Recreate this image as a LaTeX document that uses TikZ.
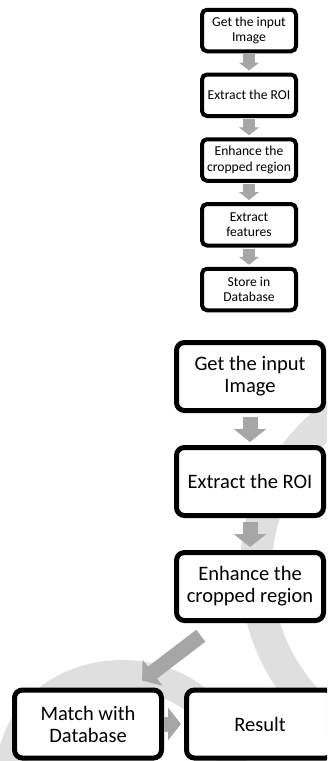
\documentclass[tikz,border=0pt]{standalone}
\usepackage{fontspec}
\setmainfont{Carlito}
\usetikzlibrary{positioning, arrows.meta, calc}

\begin{document}
\begin{tikzpicture}[x=1pt, y=-1pt,
    smallbox/.style={draw, fill=white, line width=4pt, rounded corners=5pt,
      align=center, inner sep=0pt, minimum width=94pt, minimum height=41.5pt,
      font=\fontsize{13.6}{15.5}\selectfont},
    bigbox/.style={draw, fill=white, line width=5pt, rounded corners=8pt,
      align=center, inner sep=0pt, minimum width=147pt, minimum height=68pt,
      font=\fontsize{20.5}{22}\selectfont},
    smallarrow/.style={draw=gray!70, line width=12pt,
      -{Triangle[width=20pt, length=8pt]}, shorten <=1pt, shorten >=2pt},
    bigarrow/.style={draw=gray!70, line width=15pt,
      -{Triangle[width=32pt, length=13pt]}},
    bgarc/.style={draw=gray!25, line width=32pt}]
  \useasboundingbox (0,0) rectangle (327,761);
  \clip (0,0) rectangle (327,761);

  % background swooshes
  \draw[bgarc] (448,570) circle[radius=192pt];
  \draw[bgarc, line width=30pt] (122,770) ellipse[x radius=110pt, y radius=95pt];

  % enrolment chain
  \node[smallbox] (s1) at (249,30.5) {Get the input\\Image};
  \node[smallbox, below=19.25pt of s1] (s2) {Extract the ROI};
  \node[smallbox, below=19.25pt of s2] (s3) {Enhance the\\cropped region};
  \node[smallbox, below=19.25pt of s3] (s4) {Extract\\features};
  \node[smallbox, below=19.25pt of s4] (s5) {Store in\\Database};

  % matching chain
  \node[bigbox] (g1) at (250,376.5) {Get the input\\Image};
  \node[bigbox, below=32pt of g1] (g2) {Extract the ROI};
  \node[bigbox, below=32pt of g2] (g3) {Enhance the\\cropped region};
  \node[bigbox] (match) at (88,724) {Match with\\Database};
  \node[bigbox, right=20pt of match] (res) {Result};

  \foreach \a/\b in {s1/s2, s2/s3, s3/s4, s4/s5}
    \draw[smallarrow] (\a.south) -- (\b.north);
  \foreach \a/\b in {g1/g2, g2/g3}
    \draw[bigarrow, shorten <=4pt, shorten >=3pt] (\a.south) -- (\b.north);
  \draw[bigarrow, shorten <=21pt, shorten >=11.5pt]
    ($(g3.south west)!0.286!(g3.south east)$) -- ($(match.north west)!0.796!(match.north east)$);
  \draw[bigarrow, shorten >=3pt] (match.east) -- (res.west);
\end{tikzpicture}
\end{document}
